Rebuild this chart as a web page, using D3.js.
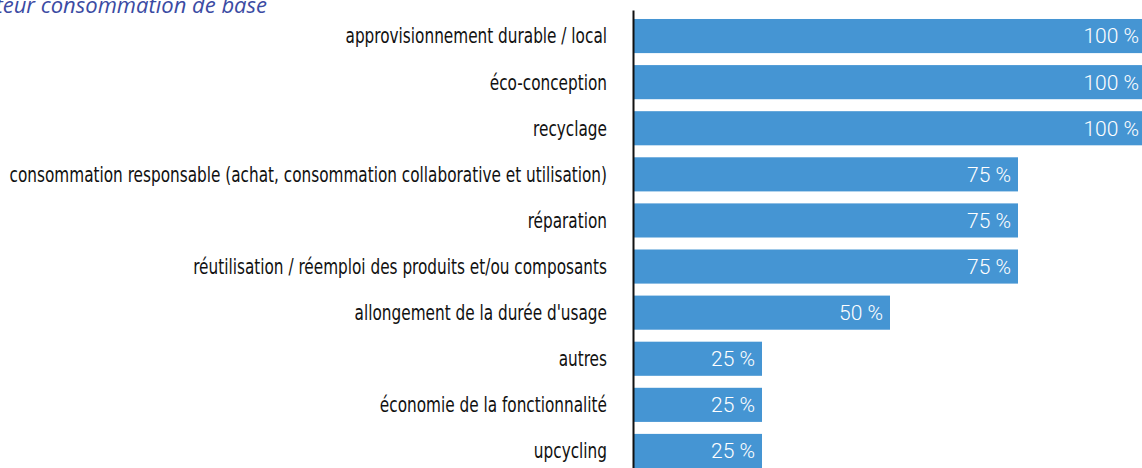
<!DOCTYPE html>
<html>
<head>
<meta charset="utf-8">
<script src="https://cdn.jsdelivr.net/npm/d3@7"></script>
<style>
  body { margin: 0; background: #fff; overflow: hidden; }
  .label { font-family: "DejaVu Sans Condensed", "DejaVu Sans", sans-serif; font-stretch: condensed; font-size: 21px; fill: #111; }
  .value { font-family: Roboto, sans-serif; font-weight: 300; font-size: 21px; fill: #fff; }
  .title { font-family: "Open Sans", sans-serif; font-style: italic; font-size: 22px; fill: #3b4ba3; }
</style>
</head>
<body>
<div id="chart"></div>
<script>
const categories = [
  "approvisionnement durable / local",
  "éco-conception",
  "recyclage",
  "consommation responsable (achat, consommation collaborative et utilisation)",
  "réparation",
  "réutilisation / réemploi des produits et/ou composants",
  "allongement de la durée d'usage",
  "autres",
  "économie de la fonctionnalité",
  "upcycling"
];
const values = [100, 100, 100, 75, 75, 75, 50, 25, 25, 25];
const titleText = "Secteur consommation de base";

const w = 1142;
const h = 468;
const axisX = 634;
const labelScale = 0.81;

const svg = d3.select("#chart").append("svg")
  .attr("width", w)
  .attr("height", h);

const x = d3.scaleLinear().domain([0, 100]).range([axisX, axisX + 512]);
const y = d3.scaleBand().domain(categories).range([13, 474]).paddingInner(0.26).paddingOuter(0.13);

svg.append("text")
  .attr("class", "title")
  .attr("x", 267)
  .attr("y", 13)
  .attr("text-anchor", "end")
  .text(titleText);

svg.selectAll("rect.bar")
  .data(values)
  .enter()
  .append("rect")
  .attr("class", "bar")
  .attr("x", x(0))
  .attr("y", (d, i) => y(categories[i]))
  .attr("width", d => x(d) - x(0))
  .attr("height", y.bandwidth())
  .attr("fill", "#4595d3");

svg.selectAll("text.label")
  .data(categories)
  .enter()
  .append("text")
  .attr("class", "label")
  .attr("transform", d => "translate(" + (axisX - 27) + "," + (y(d) + y.bandwidth() / 2) + ") scale(" + labelScale + ",1)")
  .attr("dy", "0.35em")
  .attr("text-anchor", "end")
  .text(d => d);

svg.selectAll("text.value")
  .data(values)
  .enter()
  .append("text")
  .attr("class", "value")
  .attr("x", d => x(d) - 7)
  .attr("y", (d, i) => y(categories[i]) + y.bandwidth() / 2)
  .attr("dy", "0.35em")
  .attr("text-anchor", "end")
  .text(d => d + " %");

// vertical axis line
svg.append("g")
  .attr("transform", "translate(" + (axisX - 1) + ",0)")
  .call(d3.axisLeft(d3.scaleLinear().range([10, h])).ticks(0).tickSize(0).tickFormat(""))
  .call(g => g.select(".domain").attr("stroke", "#111").attr("stroke-width", 2));
</script>
</body>
</html>
